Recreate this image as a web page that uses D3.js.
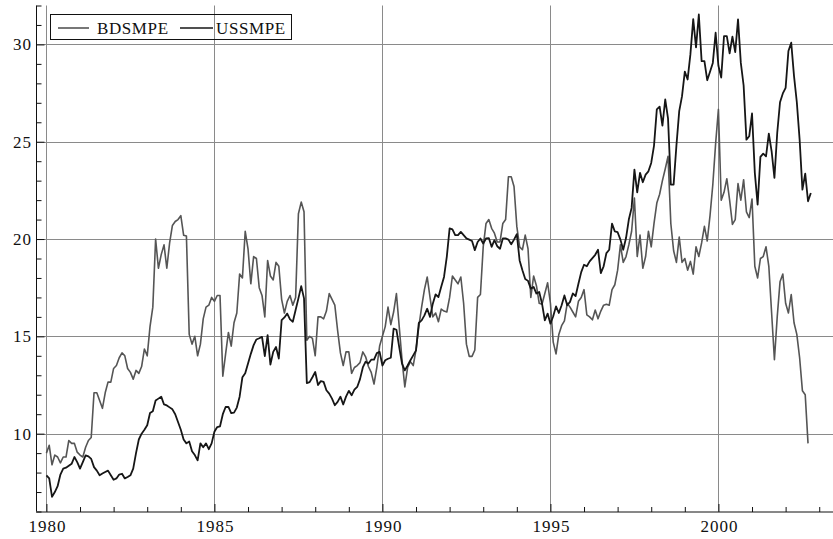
<!DOCTYPE html>
<html>
<head>
<meta charset="utf-8">
<script src="https://cdn.jsdelivr.net/npm/d3@7"></script>
<style>
  body { margin: 0; background: #fff; }
  svg { display: block; }
</style>
</head>
<body>
<div id="chart"></div>
<script>
// monthly series, first value = Jan 1980
var startYear = 1980;

var bdsmpe = [
  9.0, 9.4, 8.4, 8.9, 8.8, 8.5, 8.8, 8.8, 9.65, 9.5, 9.5, 9.05,
  8.9, 8.8, 9.3, 9.65, 9.8, 12.1, 12.1, 11.7, 11.3, 12.1, 12.65, 12.65,
  13.35, 13.5, 13.9, 14.15, 14.0, 13.35, 13.15, 12.8, 13.25, 13.1, 13.45, 14.35,
  14.0, 15.5, 16.5, 20.0, 18.5, 19.2, 19.7, 18.5, 19.8, 20.7, 20.9, 21.0,
  21.2, 20.2, 20.15, 15.1, 14.6, 15.0, 14.0, 14.6, 15.9, 16.5, 16.6, 17.0,
  16.8, 17.1, 17.1, 12.95, 14.1, 15.2, 14.5, 15.7, 16.2, 18.2, 18.0, 20.4,
  19.5, 17.7, 19.1, 19.0, 17.5, 17.1, 16.0, 18.9, 18.1, 17.9, 18.8, 18.6,
  16.9, 16.2, 16.8, 17.1, 16.6, 17.0, 21.3, 21.9, 21.4, 14.8, 15.0, 14.9,
  14.0, 16.0, 16.0, 15.9, 16.3, 17.2, 16.9, 16.6, 15.3, 14.15, 13.5, 14.2,
  14.2, 13.1, 13.4, 13.5, 13.65, 14.2, 13.95, 13.45, 13.15, 12.55, 13.4, 14.5,
  15.0, 15.5, 16.5, 15.6, 16.25, 17.2, 15.5, 13.8, 12.4, 13.4, 13.7, 13.5,
  14.3, 15.5, 16.5, 17.4, 18.05, 17.0, 16.0, 16.2, 15.75, 16.4, 16.3, 16.25,
  17.0, 18.1, 17.9, 17.7, 18.05, 16.7, 14.6, 13.97, 13.97, 14.3, 17.0, 17.15,
  19.6, 20.8, 21.0, 20.55, 20.3, 19.85, 19.85, 20.8, 21.0, 23.2, 23.2, 22.7,
  20.65, 19.6, 19.45, 20.2, 19.5, 17.0, 18.1, 17.6, 16.7, 16.65, 17.2, 17.75,
  16.7, 14.7, 14.1, 15.1, 15.55, 15.8, 16.7, 16.5, 16.25, 16.0, 16.8, 17.0,
  17.4, 16.1, 16.0, 15.85, 16.35, 15.9, 16.3, 16.6, 16.65, 16.6, 17.4, 17.65,
  18.4, 19.7, 18.8, 19.1, 19.7, 20.4, 22.1, 19.1, 20.2, 18.5, 19.1, 20.4,
  19.6, 20.8, 21.85, 22.3, 23.0, 23.6, 24.25, 20.8, 19.4, 18.8, 20.1, 18.8,
  19.0, 18.4, 18.85, 18.2, 19.6, 19.1, 19.8, 20.65, 19.9, 21.2, 22.8, 24.9,
  26.66, 22.0, 22.4, 23.1, 22.0, 20.75, 21.0, 22.85, 22.0, 23.05, 21.4, 21.1,
  22.06, 18.6, 18.0, 19.0, 19.1, 19.6, 18.6, 16.2, 13.8, 16.0, 17.8, 18.2,
  16.7, 16.2, 17.15, 15.7, 15.1, 13.9, 12.2, 12.0, 9.5
];

var ussmpe = [
  7.86, 7.7, 6.75, 7.0, 7.3, 7.9, 8.2, 8.25, 8.35, 8.45, 8.8, 8.54,
  8.2, 8.54, 8.88, 8.83, 8.7, 8.28, 8.1, 7.86, 7.95, 8.03, 8.1, 7.86,
  7.63, 7.7, 7.9, 7.94, 7.7, 7.77, 7.86, 8.2, 9.0, 9.7, 10.0, 10.2,
  10.43, 11.06, 11.15, 11.7, 11.8, 11.9, 11.5, 11.45, 11.35, 11.25, 11.0, 10.6,
  10.2, 9.7, 9.5, 9.6, 9.1, 8.9, 8.63, 9.5, 9.3, 9.5, 9.2, 9.5,
  10.1, 10.34, 10.38, 11.0, 11.37, 11.37, 11.06, 11.08, 11.34, 11.9, 12.9, 13.1,
  13.6, 14.1, 14.55, 14.84, 14.9, 14.97, 13.98, 15.06, 13.55, 14.2, 14.45, 13.86,
  15.83, 15.97, 16.17, 15.87, 15.75, 16.35, 16.95, 17.58, 16.95, 12.6, 12.65, 12.9,
  13.17, 12.5, 12.7, 12.66, 12.23, 12.06, 11.8, 11.46, 11.63, 11.9, 11.5, 11.9,
  12.2, 11.97, 12.26, 12.4, 12.8, 13.4, 13.7, 13.6, 13.8, 13.8, 14.14, 14.2,
  13.5, 13.77, 13.85, 13.9, 15.4, 15.34, 14.45, 13.6, 13.25, 13.5, 13.77, 14.02,
  14.28, 15.69, 15.82, 16.08, 16.42, 16.0, 16.68, 17.16, 17.02, 17.55, 18.05, 19.1,
  20.55, 20.5, 20.2, 20.2, 20.37, 20.2, 20.03, 19.97, 19.9, 19.43, 19.85, 20.03,
  19.77, 20.03, 20.05, 19.6, 19.94, 19.63, 19.5, 20.03, 20.03, 19.97, 19.73, 19.97,
  20.25, 18.9, 18.4, 17.95, 17.85, 17.45, 17.54, 17.2, 17.28, 16.68, 15.82, 16.17,
  15.65, 16.03, 16.54, 16.2, 16.6, 17.1, 16.6, 16.77, 17.2, 17.07, 17.7, 18.3,
  18.68, 18.6, 18.85, 19.02, 19.19, 19.45, 18.25, 18.6, 19.28, 19.45, 20.79, 20.39,
  20.35, 19.97, 19.45, 20.05, 21.0, 21.6, 23.57, 22.4, 23.4, 22.92, 23.31, 23.48,
  23.91, 24.8, 26.66, 26.8, 25.83, 27.17, 26.2, 22.8, 22.8, 24.8, 26.57, 27.34,
  28.6, 28.2, 29.5, 31.3, 29.85, 31.54, 29.14, 29.14, 28.16, 28.6, 29.05, 30.6,
  28.9, 28.3, 30.43, 30.43, 29.54, 30.4, 29.6, 31.29, 29.05, 27.89, 25.11, 25.28,
  26.45, 23.4, 21.77, 24.22, 24.39, 24.25, 25.42, 24.51, 23.14, 25.45, 27.03, 27.48,
  27.77, 29.66, 30.09, 28.37, 27.03, 25.11, 22.54, 23.36, 21.94, 22.37
];

var seriesNames = ["BDSMPE", "USSMPE"];
var seriesColors = ["#555555", "#161616"];
var yTicks = [10, 15, 20, 25, 30];
var xTicks = [1980, 1985, 1990, 1995, 2000];

var outerWidth = 833,
    outerHeight = 539,
    plotLeft = 36,
    plotRight = 833,
    plotTop = 5.5,
    plotBottom = 511.5;

var font = "'Liberation Serif', 'DejaVu Serif', serif";

var x = d3.scaleLinear()
    .domain([1979.69, 2003.41])
    .range([plotLeft, plotRight]);

var y = d3.scaleLinear()
    .domain([6, 32])
    .range([plotBottom, plotTop]);

var svg = d3.select("#chart")
    .append("svg")
    .attr("width", outerWidth)
    .attr("height", outerHeight);

// grid
svg.append("g")
    .selectAll("line")
    .data(yTicks)
    .enter().append("line")
    .attr("x1", plotLeft)
    .attr("x2", plotRight)
    .attr("y1", function(d) { return Math.round(y(d)) + 0.5; })
    .attr("y2", function(d) { return Math.round(y(d)) + 0.5; })
    .style("stroke", "#8a8a8a")
    .style("stroke-width", 1);

svg.append("g")
    .selectAll("line")
    .data(xTicks)
    .enter().append("line")
    .attr("x1", function(d) { return Math.round(x(d)) + 0.5; })
    .attr("x2", function(d) { return Math.round(x(d)) + 0.5; })
    .attr("y1", plotTop)
    .attr("y2", plotBottom)
    .style("stroke", "#8a8a8a")
    .style("stroke-width", 1);

// axes with inward ticks
var yAxis = d3.axisRight(y)
    .tickValues(d3.range(6, 33))
    .tickSize(0)
    .tickFormat("");

var gy = svg.append("g")
    .attr("transform", "translate(" + (plotLeft + 0.5) + ",0)")
    .call(yAxis);
gy.select(".domain").attr("d", "M0," + plotTop + "V" + plotBottom).style("stroke", "#111");
gy.selectAll(".tick line")
    .attr("x2", function(d) { return yTicks.indexOf(d) >= 0 ? 8 : 5; })
    .style("stroke", "#111");

var xAxis = d3.axisTop(x)
    .tickValues(d3.range(1980, 2004))
    .tickSize(0)
    .tickFormat("");

var gx = svg.append("g")
    .attr("transform", "translate(0," + (plotBottom + 0.5) + ")")
    .call(xAxis);
gx.select(".domain").attr("d", "M" + plotLeft + ",0H" + plotRight).style("stroke", "#111");
gx.selectAll(".tick line")
    .attr("y2", function(d) { return xTicks.indexOf(d) >= 0 ? -8 : -5; })
    .style("stroke", "#111");

svg.append("g")
    .selectAll("text")
    .data(yTicks)
    .enter().append("text")
    .attr("x", plotLeft - 4)
    .attr("y", function(d) { return y(d); })
    .attr("dy", "0.35em")
    .style("text-anchor", "end")
    .style("font-family", font)
    .style("font-size", "17px")
    .style("letter-spacing", "1px")
    .style("fill", "#111")
    .text(function(d) { return d; });

svg.append("g")
    .selectAll("text")
    .data(xTicks)
    .enter().append("text")
    .attr("x", function(d) { return x(d) + 1; })
    .attr("y", plotBottom + 20)
    .style("text-anchor", "middle")
    .style("font-family", font)
    .style("font-size", "17px")
    .style("letter-spacing", "1px")
    .style("fill", "#111")
    .text(function(d) { return d; });

// lines
var line = d3.line()
    .x(function(d, i) { return x(startYear + i / 12); })
    .y(function(d) { return y(d); });

svg.append("path")
    .datum(bdsmpe)
    .attr("d", line)
    .style("fill", "none")
    .style("stroke", seriesColors[0])
    .style("stroke-width", 1.6)
    .style("stroke-linejoin", "round");

svg.append("path")
    .datum(ussmpe)
    .attr("d", line)
    .style("fill", "none")
    .style("stroke", seriesColors[1])
    .style("stroke-width", 1.8)
    .style("stroke-linejoin", "round");

// legend
var legend = svg.append("g");

legend.append("rect")
    .attr("x", 50.5)
    .attr("y", 14.5)
    .attr("width", 241)
    .attr("height", 25)
    .style("fill", "none")
    .style("stroke", "#111")
    .style("stroke-width", 1);

var legendPos = [{ x1: 58, x2: 89, tx: 97 }, { x1: 180, x2: 213, tx: 216 }];

seriesNames.forEach(function(name, i) {
    legend.append("line")
        .attr("x1", legendPos[i].x1)
        .attr("x2", legendPos[i].x2)
        .attr("y1", 28)
        .attr("y2", 28)
        .style("stroke", seriesColors[i])
        .style("stroke-width", 1.6);
    legend.append("text")
        .attr("x", legendPos[i].tx)
        .attr("y", 33.5)
        .style("font-family", font)
        .style("font-size", "17px")
        .style("letter-spacing", "0.6px")
        .style("fill", "#111")
        .text(name);
});
</script>
</body>
</html>
